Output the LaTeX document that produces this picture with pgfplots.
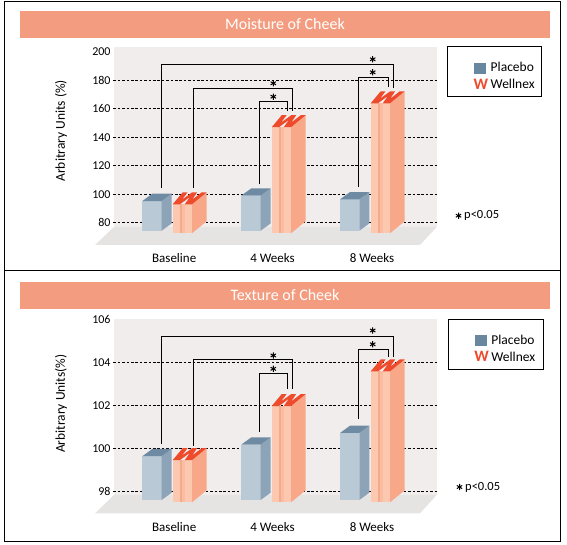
\documentclass[border=0pt]{standalone}
\usepackage{fontspec}
\setmainfont{Carlito}
\usepackage{pgfplots}
\pgfplotsset{compat=1.18}

\definecolor{titlebg}{HTML}{F49C7F}
\definecolor{wall}{HTML}{F0EDEC}
\definecolor{floorc}{HTML}{E6E4E3}
\definecolor{pfront}{HTML}{B9C9D6}
\definecolor{pside}{HTML}{8DA4B8}
\definecolor{ptop}{HTML}{6F8BA3}
\definecolor{wfront}{HTML}{FDC8B0}
\definecolor{wstripe}{HTML}{F6AA8C}
\definecolor{wmid}{HTML}{FBBDA2}
\definecolor{wside}{HTML}{F8A888}
\definecolor{wred}{HTML}{EE4B2D}
\definecolor{legblue}{HTML}{6A87A0}

% helper: point at x-offset #1 (px) and y = #2 + #3 px (converted with \U units per px)
\newcommand\PT[3]{(\fpeval{\X+#1},\fpeval{#2+(#3)*\U})}
% Placebo 3D bar: #1 left x, #2 top value, #3 base value, #4 value units per px
\newcommand\Pbar[4]{%
 \def\X{#1}\def\T{#2}\def\B{#3}\def\U{#4}%
 \edef\barcmd{%
  \noexpand\addplot[fill=pfront,draw=none,forget plot] coordinates {\PT{0}{\B}{0} \PT{19.4}{\B}{0} \PT{19.4}{\T}{0} \PT{0}{\T}{0}} --cycle;
  \noexpand\addplot[fill=pside,draw=none,forget plot] coordinates {\PT{19.4}{\B}{0} \PT{29.4}{\B}{7.3} \PT{29.4}{\T}{7.3} \PT{19.4}{\T}{0}} --cycle;
  \noexpand\addplot[fill=ptop,draw=none,forget plot] coordinates {\PT{0}{\T}{0} \PT{19.4}{\T}{0} \PT{29.4}{\T}{7.3} \PT{10}{\T}{7.3}} --cycle;
 }\barcmd}
% Wellnex 3D "W" bar
\newcommand\Wbar[4]{%
 \def\X{#1}\def\T{#2}\def\B{#3}\def\U{#4}%
 \edef\barcmd{%
  \noexpand\addplot[fill=wfront,draw=none,forget plot] coordinates {\PT{0}{\B}{0} \PT{19.3}{\B}{0} \PT{19.3}{\T}{0} \PT{0}{\T}{0}} --cycle;
  \noexpand\addplot[fill=wstripe,draw=none,forget plot] coordinates {\PT{7.25}{\B}{0} \PT{9.4}{\B}{0} \PT{9.4}{\T}{0} \PT{7.25}{\T}{0}} --cycle;
  \noexpand\addplot[fill=wmid,draw=none,forget plot] coordinates {\PT{9.4}{\B}{0} \PT{12.05}{\B}{0} \PT{12.05}{\T}{0} \PT{9.4}{\T}{0}} --cycle;
  \noexpand\addplot[fill=wside,draw=none,forget plot] coordinates {\PT{19.3}{\B}{0} \PT{33.95}{\B}{12} \PT{33.95}{\T}{12} \PT{19.3}{\T}{0}} --cycle;
  \noexpand\addplot[fill=wred,draw=none,forget plot] coordinates {\PT{9.96}{\T}{12} \PT{0}{\T}{0} \PT{7.25}{\T}{0} \PT{17.28}{\T}{7.44} \PT{12.05}{\T}{0} \PT{19.3}{\T}{0} \PT{33.95}{\T}{12} \PT{29.03}{\T}{12} \PT{19.41}{\T}{4.56} \PT{24.47}{\T}{12} \PT{19.44}{\T}{12} \PT{9.23}{\T}{4.56} \PT{14.87}{\T}{12}} --cycle;
 }\barcmd}

\pgfplotsset{
 panel/.style={
  scale only axis, width=323.4pt, clip=false,
  xmin=113.3, xmax=436.7,
  axis line style={draw=none}, major tick length=0pt,
  /pgf/number format/assume math mode=true,
  xtick={174.2,272.5,372}, xticklabels={Baseline,4 Weeks,8 Weeks},
  xticklabel style={font=\fontsize{13}{15}\selectfont, anchor=base},
  yticklabel style={font=\fontsize{12}{14}\selectfont, anchor=east, inner sep=0pt, xshift=-2.6pt},
  ylabel style={anchor=center, font=\fontsize{13.5}{16}\selectfont},
  legend style={anchor=north west, draw=none, fill=none,
    font=\fontsize{13.5}{16}\selectfont, inner xsep=10pt, inner ysep=7pt, row sep=2pt},
  legend cell align=left,
 },
 gridline/.style={black, line width=0.6pt, dash pattern=on 2.6pt off 1.8pt, forget plot},
 bracket/.style={black, line width=0.8pt, forget plot},
 stars/.style={only marks, mark=asterisk, mark size=3.1pt, black, line width=1pt, forget plot},
 legP/.style={legend image code/.code={\fill[legblue] (0pt,-5pt) rectangle (11pt,5pt); \path (14pt,0pt);}},
 legW/.style={legend image code/.code={\node[inner sep=0pt,anchor=west,text=wred,font=\fontsize{16}{16}\selectfont\bfseries] at (-1pt,0pt) {W}; \path (14pt,0pt);}},
}

\begin{document}
\begin{tikzpicture}[x=1pt,y=1pt]
\path[use as bounding box] (0,0) rectangle (567,545);
% frame
\draw[line width=1pt] (4.7,3) rectangle (560.7,543.3);
\draw[line width=1pt] (4.7,274.3) -- (560.7,274.3);
% title bars
\fill[titlebg] (20,507.3) rectangle (549.7,534);
\node[text=white, font=\fontsize{16}{19}\selectfont] at (285,520.7) {Moisture of Cheek};
\fill[titlebg] (20,236.3) rectangle (549.7,263);
\node[text=white, font=\fontsize{16}{19}\selectfont] at (285,249.7) {Texture of Cheek};
% legend frames
\draw[line width=0.9pt] (447.7,449) rectangle (541.7,499);
\draw[line width=0.9pt] (448.3,175.7) rectangle (543,225.7);

% ---------- Moisture of Cheek ----------
\begin{axis}[panel, at={(113.3pt,300pt)}, anchor=south west,
  height=198.3pt, ymin=64.345, ymax=203.55,
  ytick={80,100,...,200},
  xticklabel style={yshift=-18pt},
  ylabel={Arbitrary Units (\%)},
  ylabel style={at={(axis description cs:-0.1617,0.576)}},
  legend style={at={(axis description cs:1.083,0.967)}}]
\addlegendimage{legP}
\addlegendentry{Placebo}
\addlegendimage{legW}
\addlegendentry{Wellnex}
% back wall and floor
\addplot[fill=wall,draw=none,forget plot] coordinates {(114,76.98) (436.7,76.98) (436.7,203.55) (114,203.55)} --cycle;
\addplot[fill=floorc,draw=none,forget plot] coordinates {(95,64.345) (420,64.345) (436.7,76.98) (114,76.98)} --cycle;
% dashed reference lines
\addplot[gridline] coordinates {(113.3,80) (436.7,80)};
\addplot[gridline] coordinates {(113.3,100) (436.7,100)};
\addplot[gridline] coordinates {(113.3,120) (436.7,120)};
\addplot[gridline] coordinates {(113.3,140) (436.7,140)};
\addplot[gridline] coordinates {(113.3,160) (436.7,160)};
\addplot[gridline] coordinates {(113.3,180) (436.7,180)};
% bars: Placebo (Baseline, 4 Weeks, 8 Weeks)
\Pbar{142.3}{95.2}{74.38}{0.702}
\Pbar{241.3}{99.0}{74.38}{0.702}
\Pbar{340.0}{96.4}{74.38}{0.702}
% bars: Wellnex
\Wbar{172.7}{92.9}{72.56}{0.702}
\Wbar{271.7}{147.0}{72.56}{0.702}
\Wbar{370.7}{163.8}{72.56}{0.702}
% significance brackets
\addplot[bracket] coordinates {(161.7,104.15) (161.7,191.2) (393.3,191.2) (393.3,174.77)};
\addplot[bracket] coordinates {(193.3,104.15) (193.3,174.35) (292.3,174.35) (292.3,158.6)};
\addplot[bracket] coordinates {(259.3,106.96) (259.3,164.94) (287.3,164.94) (287.3,158.6)};
\addplot[bracket] coordinates {(358.3,105.27) (358.3,182.07) (388,182.07) (388,175.05)};
\addplot[stars] coordinates {(273.3,177.86) (273.3,168.45) (372.7,194.71) (372.7,185.58) (458.5,84.9)};
\node[anchor=west, font=\fontsize{12.5}{14}\selectfont, inner sep=0pt] at (axis cs:464,84.9) {p<0.05};
\end{axis}

% ---------- Texture of Cheek ----------
\begin{axis}[panel, at={(113.3pt,31.7pt)}, anchor=south west,
  height=194pt, ymin=97.0, ymax=106.01,
  ytick={98,100,...,106},
  xticklabel style={yshift=-18.7pt},
  ylabel={Arbitrary Units(\%)},
  ylabel style={at={(axis description cs:-0.1617,0.565)}},
  legend style={at={(axis description cs:1.085,0.966)}}]
\addlegendimage{legP}
\addlegendentry{Placebo}
\addlegendimage{legW}
\addlegendentry{Wellnex}
\addplot[fill=wall,draw=none,forget plot] coordinates {(114,97.85) (436.7,97.85) (436.7,106.01) (114,106.01)} --cycle;
\addplot[fill=floorc,draw=none,forget plot] coordinates {(95,97.0) (420,97.0) (436.7,97.85) (114,97.85)} --cycle;
\addplot[gridline] coordinates {(113.3,98) (436.7,98)};
\addplot[gridline] coordinates {(113.3,100) (436.7,100)};
\addplot[gridline] coordinates {(113.3,102) (436.7,102)};
\addplot[gridline] coordinates {(113.3,104) (436.7,104)};
\Pbar{142.3}{99.65}{97.62}{0.0463}
\Pbar{241.3}{100.19}{97.62}{0.0463}
\Pbar{340.0}{100.73}{97.62}{0.0463}
\Wbar{172.7}{99.47}{97.51}{0.0463}
\Wbar{271.7}{101.98}{97.51}{0.0463}
\Wbar{370.7}{103.59}{97.51}{0.0463}
\addplot[bracket] coordinates {(161.7,100.24) (161.7,105.21) (393.3,105.21) (393.3,104.25)};
\addplot[bracket] coordinates {(193.3,100.13) (193.3,104.13) (292.3,104.13) (292.3,102.79)};
\addplot[bracket] coordinates {(259.3,100.78) (259.3,103.48) (287.3,103.48) (287.3,102.79)};
\addplot[bracket] coordinates {(358.7,101.40) (358.7,104.59) (388,104.59) (388,104.25)};
\addplot[stars] coordinates {(273.3,104.33) (273.3,103.71) (372.7,105.49) (372.7,104.85) (459.5,98.22)};
\node[anchor=west, font=\fontsize{12.5}{14}\selectfont, inner sep=0pt] at (axis cs:465,98.22) {p<0.05};
\end{axis}
\end{tikzpicture}
\end{document}
